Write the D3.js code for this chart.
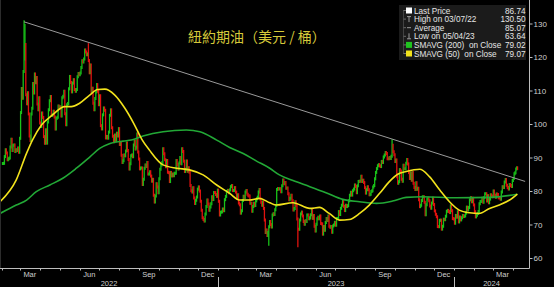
<!DOCTYPE html>
<html><head><meta charset="utf-8">
<script src="https://cdn.jsdelivr.net/npm/d3@7"></script>
<style>html,body{margin:0;padding:0;background:#000;}svg{display:block;}</style>
</head><body><svg id="c" width="554" height="287"></svg>
<script>
// ---- DATA ----
const months = ["2022-02","2022-03","2022-04","2022-05","2022-06","2022-07","2022-08","2022-09","2022-10","2022-11","2022-12",
"2023-01","2023-02","2023-03","2023-04","2023-05","2023-06","2023-07","2023-08","2023-09","2023-10","2023-11","2023-12",
"2024-01","2024-02","2024-03","2024-04"];
const closes = [
[88.20,88.26,90.27,92.31,91.32,89.36,89.66,89.88,93.10,95.46,92.07,93.66,93.76,91.76,92.35,92.10,92.81,91.59,95.72],
[103.41,110.60,107.67,115.68,119.40,123.70,108.70,106.02,109.33,103.01,96.44,95.04,102.98,104.70,112.12,109.27,114.93,112.34,113.90,105.96,104.24,107.82,100.28],
[99.27,103.28,101.96,96.23,94.25,98.26,94.29,100.60,104.25,106.95,108.21,102.56,102.75,103.79,102.07,98.54,101.70,101.99,105.36,104.69],
[105.17,102.41,107.81,108.26,109.77,103.09,99.76,105.71,106.13,110.49,114.20,112.40,109.59,112.21,113.23,110.29,109.77,110.33,114.09,115.07,114.67],
[115.26,116.87,118.87,118.50,119.41,122.11,121.51,120.67,120.93,118.93,115.31,117.59,109.56,110.65,106.19,104.27,107.62,109.57,111.76,109.78,105.76],
[108.43,99.50,98.53,102.73,104.79,104.09,95.84,96.30,95.78,97.59,102.60,104.22,98.88,96.35,94.70,96.70,94.98,97.26,96.42,98.62],
[93.89,94.42,90.66,88.54,89.01,90.76,90.50,91.93,94.34,92.09,89.41,86.53,88.11,90.50,90.77,90.23,93.74,94.89,92.52,93.06,97.01,91.64,89.55],
[86.61,86.87,86.88,81.94,83.54,86.79,87.78,87.31,88.48,85.10,85.11,85.73,84.45,82.94,83.49,78.74,76.71,78.50,82.15,81.23,79.49],
[83.63,86.52,87.76,88.45,92.64,91.13,89.35,87.27,89.11,85.61,85.46,82.82,85.55,84.51,85.05,84.58,85.32,85.32,89.08,87.90,86.53],
[88.37,90.00,88.17,92.61,91.79,88.91,85.83,86.47,88.96,85.87,86.92,85.59,81.64,80.08,79.73,80.95,77.94,76.28,77.24,78.20,80.55],
[81.22,79.98,76.93,74.25,72.01,71.46,71.02,73.17,75.39,77.28,76.11,74.29,75.19,76.23,78.29,77.49,79.56,79.53,78.96,78.40,80.26],
[76.93,72.84,73.67,73.77,74.63,74.12,77.41,78.39,79.86,80.18,79.48,80.33,81.31,81.62,80.13,80.15,81.01,79.68,77.90,78.87],
[76.41,75.88,73.39,74.11,77.14,78.47,78.06,79.72,80.14,79.06,78.59,78.49,76.34,76.36,73.95,75.39,76.32,75.68,77.05],
[77.69,78.16,79.68,80.46,77.58,76.66,75.72,76.68,74.80,71.33,67.61,68.35,66.74,67.64,69.33,70.90,69.96,69.26,72.81,73.20,72.97,74.37,75.67],
[80.42,80.71,80.61,80.70,79.74,81.53,83.26,82.16,82.52,80.83,80.86,79.16,77.37,77.87,78.76,77.07,74.30,74.76,76.78],
[75.66,71.66,68.60,68.56,71.34,73.16,73.71,72.56,70.87,70.04,71.11,70.86,72.83,72.86,71.69,71.99,72.91,74.34,71.83,72.67,69.46,68.09],
[70.10,71.74,72.15,71.74,72.53,70.29,70.17,67.12,69.42,68.27,70.62,71.78,71.19,72.53,69.51,69.16,69.37,67.70,69.56,69.86,70.64],
[69.79,71.79,71.80,73.86,72.99,74.83,75.75,76.89,75.42,74.15,75.75,75.35,75.63,77.07,78.74,79.63,78.78,80.09,80.58,81.80],
[81.37,79.49,81.55,82.82,82.94,82.92,84.40,82.82,83.19,82.51,80.99,79.38,80.39,81.25,80.35,78.89,79.05,79.83,80.10,81.16,81.63,83.63],
[85.55,86.69,87.54,87.87,87.51,87.29,88.84,88.52,90.16,90.77,91.48,91.20,89.66,89.63,90.03,89.68,90.39,93.68,91.71,90.79],
[88.82,89.23,84.22,82.31,82.79,86.38,85.97,83.49,82.91,87.69,86.66,86.66,88.32,89.37,88.08,85.49,83.74,85.39,83.21,85.54,82.31,81.02],
[80.44,82.46,80.51,80.82,77.37,75.33,75.74,77.17,78.26,78.26,76.66,72.90,75.89,77.60,77.83,77.10,75.54,74.86,76.41,77.86,75.96],
[74.07,73.04,72.32,69.38,69.34,71.23,71.32,68.61,69.47,71.58,71.43,72.47,73.94,74.22,73.89,73.56,75.57,74.11,71.77,71.65],
[70.38,72.70,72.19,73.81,70.77,72.24,71.37,72.02,72.68,72.40,72.56,73.41,75.19,74.37,75.09,77.36,78.01,76.78,77.82,75.85],
[73.82,72.28,72.78,73.31,73.86,76.22,76.84,76.92,77.87,76.64,78.03,79.19,79.19,77.04,78.61,76.49,77.58,78.87,78.54,78.26],
[79.97,78.74,78.15,79.13,78.93,78.01,77.93,77.56,79.72,81.26,81.04,82.72,83.47,81.68,81.07,80.63,81.95,81.62,81.35,83.17],
[83.71,85.15,85.43,86.59,86.91,86.74]
];
const lastDataDate = "2024-04-09";

// notable intraday extremes (wicks)
const wickDates = ["2022-03-07","2022-03-08","2022-06-14","2023-03-20","2023-05-04","2023-09-28"];
const wickValues = [130.50,129.44,123.68,64.12,63.64,95.03];

// moving averages
const sma200Dates = ["2022-01-29","2022-02-23","2022-03-11","2022-03-26","2022-04-16","2022-05-06","2022-05-27","2022-06-17","2022-07-02","2022-07-18","2022-08-07","2022-08-20","2022-09-07","2022-10-08","2022-11-13","2022-12-04","2022-12-30","2023-01-19","2023-02-09","2023-03-01","2023-03-22","2023-04-06","2023-04-27","2023-05-23","2023-06-17","2023-07-13","2023-08-08","2023-09-03","2023-09-28","2023-10-19","2023-11-14","2024-01-04","2024-02-25","2024-04-08"];
const sma200Values = [73.3,75.8,77.3,79.8,81.8,83.8,86.8,90.2,92.7,94.2,94.9,95.2,96.4,97.7,98.2,97.7,95.2,93.0,91.2,89.0,86.8,84.8,83.1,81.3,79.5,77.5,76.8,76.3,77.0,78.1,78.3,78.0,78.1,79.02];
const sma50Dates = ["2022-01-29","2022-02-23","2022-03-11","2022-03-20","2022-04-03","2022-04-20","2022-05-09","2022-05-19","2022-06-01","2022-06-17","2022-06-29","2022-07-10","2022-07-25","2022-08-10","2022-08-25","2022-09-05","2022-09-17","2022-10-08","2022-10-29","2022-11-18","2022-12-09","2022-12-30","2023-01-19","2023-02-03","2023-02-19","2023-03-06","2023-03-22","2023-04-01","2023-04-27","2023-05-23","2023-06-07","2023-06-22","2023-07-08","2023-07-23","2023-08-08","2023-08-23","2023-09-08","2023-09-23","2023-10-06","2023-10-19","2023-11-09","2023-11-24","2023-12-10","2023-12-25","2024-01-09","2024-01-25","2024-02-09","2024-02-25","2024-03-11","2024-03-27","2024-04-08"];
const sma50Values = [76.8,83.3,91.3,95.2,99.7,102.7,105.2,105.2,106.2,108.7,110.3,110.4,108.7,104.7,99.7,95.5,92.2,87.8,86.8,86.3,84.8,81.8,79.3,77.3,77.3,77.8,76.5,75.8,76.5,74.8,75.1,73.3,71.3,71.5,73.3,75.8,79.3,82.8,85.0,85.8,86.5,84.3,80.3,76.8,74.3,73.5,73.3,74.8,75.8,77.3,79.07];

// trend line endpoints
const trendDates = ["2022-03-07","2024-04-20"];

const yTicks = [60,70,80,90,100,110,120,130];
const monthLabelDates = ["2022-03","2022-06","2022-09","2022-12","2023-03","2023-06","2023-09","2023-12","2024-03"];
const monthLabels = ["Mar","Jun","Sep","Dec","Mar","Jun","Sep","Dec","Mar"];
const yearLabels = ["2022","2023","2024"];

const legendLabels = ["Last Price","High on 03/07/22","Average","Low on 05/04/23","SMAVG (200)  on Close","SMAVG (50)  on Close"];
const legendValues = ["86.74","130.50","85.07","63.64","79.02","79.07"];
const title = "紐約期油（美元 / 桶）";

// ---- CHART ----
const svg = d3.select("#c");
const parse = d3.timeParse("%Y-%m-%d");
const parseM = d3.timeParse("%Y-%m");
const plotRight = 529, axisY = 268;
const x = d3.scaleTime().domain([new Date(2022,0,1), new Date(2024,0,1)]).range([-18, 454]);
const y = d3.scaleLinear().domain([60,130]).range([258, 23.5]);

svg.append("rect").attr("width",554).attr("height",287).attr("fill","#000");

// build candles
const candles = [];
let prev = closes[0][0];
months.forEach((m, mi) => {
  const start = parseM(m);
  const end = mi < months.length - 1 ? parseM(months[mi+1]) : parse(lastDataDate);
  const arr = closes[mi];
  arr.forEach((c, i) => {
    const t = new Date(+start + (i + 0.5) / arr.length * (end - start));
    candles.push({date: t, open: prev, close: c});
    prev = c;
  });
});
wickDates.forEach((d, i) => {
  const t = parse(d);
  let best = candles[0];
  candles.forEach(c => { if (Math.abs(c.date - t) < Math.abs(best.date - t)) best = c; });
  best.wick = wickValues[i];
});

const g = svg.append("g");
g.selectAll("line.c").data(candles).join("line")
  .attr("x1", d => x(d.date)).attr("x2", d => x(d.date))
  .attr("y1", d => y(Math.max(d.open, d.close, d.wick || -Infinity)) - 1.5)
  .attr("y2", d => y(Math.min(d.open, d.close, d.wick || Infinity)) + 1.5)
  .attr("stroke", d => d.close >= d.open ? "#19c219" : "#e0120f")
  .attr("stroke-width", 1.3);

// trend line
const tStart = parse(trendDates[0]);
const tEnd = parse(trendDates[1]);
svg.append("line")
  .attr("x1", x(tStart)).attr("y1", y(wickValues[0]))
  .attr("x2", x(tEnd)).attr("y2", y(wickValues[0]) + (x(tEnd) - x(tStart)) * 0.3185)
  .attr("stroke", "#9a9a9a").attr("stroke-width", 1);

// moving averages
const line = d3.line().x(d => x(d[0])).y(d => y(d[1])).curve(d3.curveMonotoneX);
svg.append("path").datum(sma200Dates.map((d,i)=>[parse(d), sma200Values[i]]))
  .attr("d", line).attr("fill","none").attr("stroke","#22a836").attr("stroke-width",1.6);
svg.append("path").datum(sma50Dates.map((d,i)=>[parse(d), sma50Values[i]]))
  .attr("d", line).attr("fill","none").attr("stroke","#f2e21c").attr("stroke-width",1.6);

// clip overflow
svg.append("rect").attr("x",-20).attr("y",0).attr("width",20).attr("height",287).attr("fill","#000");
svg.append("rect").attr("x",plotRight).attr("y",0).attr("width",30).attr("height",axisY).attr("fill","#000");

// axes
const axisColor = "#bdbdbd";
svg.append("line").attr("x1",0.5).attr("x2",0.5).attr("y1",0).attr("y2",axisY).attr("stroke","#2c2c2c");
svg.append("line").attr("x1",0).attr("x2",plotRight+0.5).attr("y1",axisY+0.5).attr("y2",axisY+0.5).attr("stroke",axisColor);
svg.append("line").attr("x1",plotRight+0.5).attr("x2",plotRight+0.5).attr("y1",0).attr("y2",axisY+0.5).attr("stroke",axisColor);

const yAxis = svg.append("g").attr("transform",`translate(${plotRight+0.5},0)`)
  .call(d3.axisRight(y).tickValues(yTicks).tickSize(3).tickPadding(1).tickFormat(d3.format("d")));
yAxis.select(".domain").remove();
yAxis.selectAll("line").attr("stroke", axisColor);
yAxis.selectAll("text").attr("fill","#cfcfcf").attr("font-family","Liberation Sans, Arial, sans-serif").attr("font-size",8);

// month ticks
const monthTicks = d3.timeMonth.range(new Date(2022,1,1), new Date(2024,4,1));
svg.append("g").selectAll("line").data(monthTicks).join("line")
  .attr("x1", d => Math.round(x(d))+0.5).attr("x2", d => Math.round(x(d))+0.5)
  .attr("y1", axisY).attr("y2", axisY+2.5).attr("stroke", axisColor);

svg.append("g").selectAll("text").data(monthLabelDates).join("text")
  .attr("x", d => { const s = parseM(d); return x(d3.timeDay.offset(s, 15)); })
  .attr("y", 277).attr("text-anchor","middle")
  .attr("fill","#cfcfcf").attr("font-family","Liberation Sans, Arial, sans-serif").attr("font-size",7.5)
  .text((d,i)=>monthLabels[i]);

// year separators & labels
const yearBounds = [0, x(new Date(2023,0,1)), x(new Date(2024,0,1)), plotRight];
[1,2].forEach(i => {
  svg.append("line").attr("x1", Math.round(yearBounds[i])+0.5).attr("x2", Math.round(yearBounds[i])+0.5)
    .attr("y1", 277).attr("y2", 287).attr("stroke", axisColor);
});
svg.append("g").selectAll("text").data(yearLabels).join("text")
  .attr("x", (d,i) => (yearBounds[i] + yearBounds[i+1]) / 2)
  .attr("y", 286).attr("text-anchor","middle")
  .attr("fill","#cfcfcf").attr("font-family","Liberation Sans, Arial, sans-serif").attr("font-size",7.5)
  .text(d=>d);

// title
svg.append("text").attr("x",188).attr("y",41.5)
  .attr("fill","#d6c93a").attr("font-family","Noto Sans CJK TC, Noto Sans CJK SC, sans-serif")
  .attr("font-size",14).text(title);

// legend
const lg = svg.append("g");
lg.append("rect").attr("x",399).attr("y",5).attr("width",127).attr("height",55).attr("fill","#1b1b1b");
const rowY = i => 10.5 + i * 8.6;
lg.append("line").attr("x1",403.5).attr("x2",403.5).attr("y1",rowY(0)).attr("y2",rowY(5))
  .attr("stroke","#6a6a6a").attr("stroke-dasharray","1,1");
legendLabels.forEach((t, i) => {
  const cy = rowY(i);
  lg.append("line").attr("x1",403.5).attr("x2",406).attr("y1",cy).attr("y2",cy).attr("stroke","#6a6a6a");
  if (i === 0) lg.append("rect").attr("x",406).attr("y",cy-3).attr("width",6).attr("height",6).attr("fill","#ffffff");
  if (i === 4) lg.append("rect").attr("x",406).attr("y",cy-3).attr("width",6).attr("height",6).attr("fill","#1fc21f");
  if (i === 5) lg.append("rect").attr("x",406).attr("y",cy-3).attr("width",6).attr("height",6).attr("fill","#f2e21c");
  if (i === 1) { lg.append("line").attr("x1",407).attr("x2",411).attr("y1",cy-2.5).attr("y2",cy-2.5).attr("stroke","#9a9a9a");
                 lg.append("line").attr("x1",409).attr("x2",409).attr("y1",cy-2.5).attr("y2",cy+3).attr("stroke","#9a9a9a"); }
  if (i === 2) lg.append("line").attr("x1",407).attr("x2",411).attr("y1",cy).attr("y2",cy).attr("stroke","#9a9a9a");
  if (i === 3) { lg.append("line").attr("x1",407).attr("x2",411).attr("y1",cy+2.5).attr("y2",cy+2.5).attr("stroke","#9a9a9a");
                 lg.append("line").attr("x1",409).attr("x2",409).attr("y1",cy-3).attr("y2",cy+2.5).attr("stroke","#9a9a9a"); }
  lg.append("text").attr("x",414).attr("y",cy+3).attr("fill","#e6e6e6")
    .attr("font-family","Liberation Sans, Arial, sans-serif").attr("font-size",8.2)
    .attr("xml:space","preserve").style("white-space","pre").text(t);
  lg.append("text").attr("x",525.5).attr("y",cy+3).attr("text-anchor","end").attr("fill","#e6e6e6")
    .attr("font-family","Liberation Sans, Arial, sans-serif").attr("font-size",8.2).text(legendValues[i]);
});
</script>
</body></html>
